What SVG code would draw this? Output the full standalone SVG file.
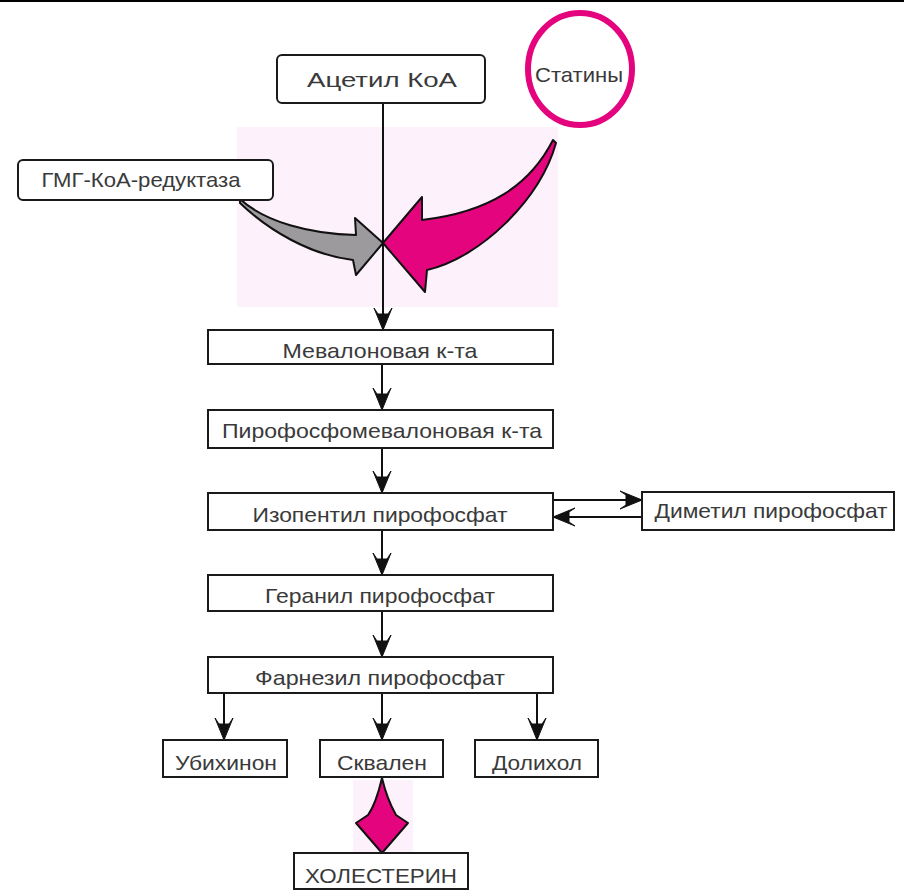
<svg xmlns="http://www.w3.org/2000/svg" width="904" height="890" viewBox="0 0 904 890">
<style>
.box{fill:#fff;stroke:#1a1a1a;stroke-width:2}
.lbl{font-family:"Liberation Sans",Arial,sans-serif;fill:#3a3a3a;text-anchor:middle;font-size:21px}
.ln{stroke:#111;stroke-width:2;fill:none;marker-end:url(#ah)}
.bg{fill:#fdf1fb}
.mag{fill:#e4047e;stroke:#111;stroke-width:2;stroke-linejoin:round}
</style>
<defs>
<marker id="ah" markerUnits="userSpaceOnUse" viewBox="-24 -11 26 22" markerWidth="26" markerHeight="22" refX="0" refY="0" orient="auto">
<path d="M0,0 L-22,-9 L-16,-5 L-16,5 L-22,9 Z" fill="#111" stroke="#111" stroke-width="1" stroke-linejoin="round"/>
</marker>
</defs>
<rect width="904" height="890" fill="#fff"/>
<rect x="0" y="0" width="904" height="2" fill="#000"/>
<rect class="bg" x="237" y="127" width="321" height="180"/>
<rect class="bg" x="353" y="780" width="60" height="75"/>

<g id="connectors">
<line class="ln" x1="383" y1="103" x2="383" y2="330"/>
<line class="ln" x1="382" y1="364" x2="382" y2="410"/>
<line class="ln" x1="382" y1="448" x2="382" y2="493"/>
<line class="ln" x1="382" y1="530" x2="382" y2="575"/>
<line class="ln" x1="382" y1="611" x2="382" y2="657"/>
<line class="ln" x1="224" y1="693" x2="224" y2="740"/>
<line class="ln" x1="382" y1="693" x2="382" y2="740"/>
<line class="ln" x1="537" y1="693" x2="537" y2="740"/>
<line class="ln" x1="553" y1="500" x2="642" y2="500"/>
<line class="ln" x1="642" y1="517" x2="553" y2="517"/>
<path d="M240,199 C265,222 310,234 356,235 L355,218 L383,243 L356,275 L353,260 C310,255 268,230 240,203 Z" fill="#9c9a9c" stroke="#111" stroke-width="2" stroke-linejoin="round"/>
<path class="mag" d="M553,140 C530,185 490,212 422,220 L422,197 L383,243 L425,292 L427,270 C480,258 540,200 556,143 Z"/>
<path class="mag" d="M382,778 C386,795 392,808 396,815 L408,823 L382,853 L356,823 L368,815 C373,808 378,795 382,778 Z"/>
</g>

<g id="acetyl"><rect class="box" x="277" y="55" width="208" height="48" rx="5"/><text class="lbl" x="382" y="87" font-size="25" textLength="150" lengthAdjust="spacingAndGlyphs">Ацетил КоА</text></g>
<g id="statins"><ellipse cx="580" cy="69" rx="52" ry="56" fill="#fff" stroke="#e4047e" stroke-width="6"/><text class="lbl" x="579" y="82" textLength="88" lengthAdjust="spacingAndGlyphs">Статины</text></g>
<g id="hmg"><rect class="box" x="18" y="160" width="255" height="40" rx="5"/><text class="lbl" x="141" y="187" textLength="199" lengthAdjust="spacingAndGlyphs">ГМГ-КоА-редуктаза</text></g>
<g id="mevalon"><rect class="box" x="208" y="330" width="345" height="34"/><text class="lbl" x="380" y="358" textLength="195" lengthAdjust="spacingAndGlyphs">Мевалоновая к-та</text></g>
<g id="pyrophosphomevalon"><rect class="box" x="208" y="410" width="345" height="38"/><text class="lbl" x="382" y="438" textLength="320" lengthAdjust="spacingAndGlyphs">Пирофосфомевалоновая к-та</text></g>
<g id="isopentyl"><rect class="box" x="208" y="493" width="345" height="37"/><text class="lbl" x="380" y="522" textLength="255" lengthAdjust="spacingAndGlyphs">Изопентил пирофосфат</text></g>
<g id="dimethyl"><rect class="box" x="642" y="492" width="252" height="38"/><text class="lbl" x="771" y="518" textLength="233" lengthAdjust="spacingAndGlyphs">Диметил пирофосфат</text></g>
<g id="geranyl"><rect class="box" x="208" y="575" width="345" height="36"/><text class="lbl" x="380" y="603" textLength="230" lengthAdjust="spacingAndGlyphs">Геранил пирофосфат</text></g>
<g id="farnesyl"><rect class="box" x="208" y="657" width="345" height="36"/><text class="lbl" x="380" y="685" textLength="250" lengthAdjust="spacingAndGlyphs">Фарнезил пирофосфат</text></g>
<g id="ubiquinone"><rect class="box" x="163" y="740" width="124" height="37"/><text class="lbl" x="226" y="770" textLength="102" lengthAdjust="spacingAndGlyphs">Убихинон</text></g>
<g id="squalene"><rect class="box" x="320" y="740" width="123" height="37"/><text class="lbl" x="382" y="770" textLength="90" lengthAdjust="spacingAndGlyphs">Сквален</text></g>
<g id="dolichol"><rect class="box" x="475" y="740" width="123" height="37"/><text class="lbl" x="537" y="770" textLength="90" lengthAdjust="spacingAndGlyphs">Долихол</text></g>
<g id="cholesterol"><rect class="box" x="294" y="853" width="174" height="36"/><text class="lbl" x="381" y="883" font-size="22" textLength="152" lengthAdjust="spacingAndGlyphs">ХОЛЕСТЕРИН</text></g>
</svg>
